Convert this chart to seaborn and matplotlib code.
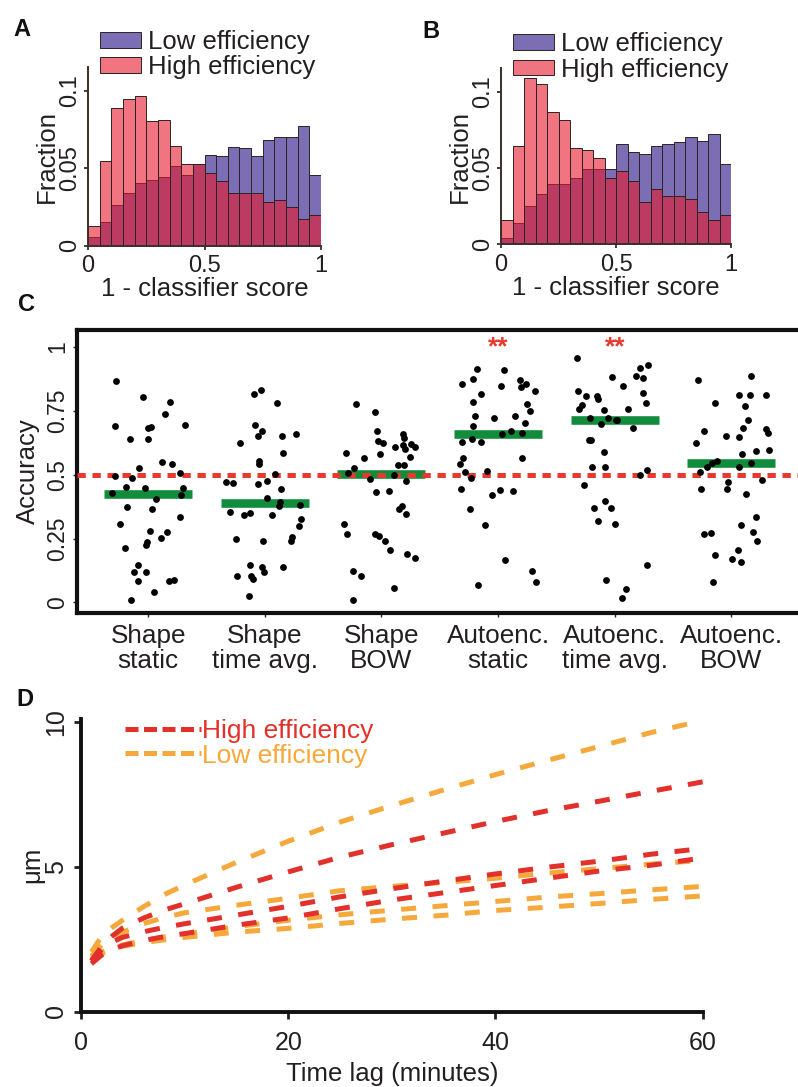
import numpy as np
import pandas as pd
import matplotlib
matplotlib.use("Agg")
import matplotlib.pyplot as plt
import seaborn as sns
from matplotlib.lines import Line2D

sns.set_style("ticks")
plt.rcParams['font.family'] = ['Liberation Sans', 'DejaVu Sans']
plt.rcParams['text.color'] = '#231f20'
plt.rcParams['axes.labelcolor'] = '#231f20'
plt.rcParams['xtick.color'] = '#231f20'
plt.rcParams['ytick.color'] = '#231f20'

# ---------------- data ----------------
bin_edges = [0.0, 0.05, 0.1, 0.15, 0.2, 0.25, 0.3, 0.35, 0.4, 0.45, 0.5,
             0.55, 0.6, 0.65, 0.7, 0.75, 0.8, 0.85, 0.9, 0.95, 1.0]
bin_centers = [0.025, 0.075, 0.125, 0.175, 0.225, 0.275, 0.325, 0.375, 0.425, 0.475,
               0.525, 0.575, 0.625, 0.675, 0.725, 0.775, 0.825, 0.875, 0.925, 0.975]

hist_a_low = [0.0058, 0.0154, 0.0261, 0.0342, 0.0404, 0.0423, 0.0444, 0.0513, 0.0457, 0.0530,
              0.0583, 0.0577, 0.0639, 0.0630, 0.0579, 0.0680, 0.0703, 0.0703, 0.0774, 0.0455]
hist_a_high = [0.0130, 0.0549, 0.0887, 0.0944, 0.0968, 0.0806, 0.0810, 0.0643, 0.0530, 0.0525,
               0.0472, 0.0415, 0.0338, 0.0338, 0.0338, 0.0282, 0.0297, 0.0248, 0.0173, 0.0199]
hist_b_low = [0.0041, 0.0141, 0.0253, 0.0329, 0.0396, 0.0396, 0.0435, 0.0491, 0.0491, 0.0496,
              0.0658, 0.0606, 0.0591, 0.0643, 0.0658, 0.0673, 0.0706, 0.0680, 0.0727, 0.0528]
hist_b_high = [0.0158, 0.0645, 0.1093, 0.1052, 0.0866, 0.0816, 0.0632, 0.0619, 0.0569, 0.0435,
               0.0480, 0.0416, 0.0275, 0.0366, 0.0320, 0.0318, 0.0297, 0.0210, 0.0162, 0.0195]

methods = ['Shape\nstatic', 'Shape\ntime avg.', 'Shape\nBOW',
           'Autoenc.\nstatic', 'Autoenc.\ntime avg.', 'Autoenc.\nBOW']
acc_shape_static = [0.868, 0.784, 0.802, 0.739, 0.694, 0.688, 0.681, 0.692, 0.640, 0.638,
                    0.551, 0.542, 0.526, 0.495, 0.487, 0.505, 0.453, 0.447, 0.422, 0.427,
                    0.405, 0.447, 0.375, 0.366, 0.334, 0.307, 0.280, 0.277, 0.254, 0.226,
                    0.214, 0.238, 0.148, 0.118, 0.085, 0.089, 0.085, 0.118, 0.040, 0.010]
acc_shape_time = [0.832, 0.817, 0.782, 0.694, 0.670, 0.651, 0.651, 0.660, 0.624, 0.583,
                  0.553, 0.543, 0.504, 0.477, 0.465, 0.471, 0.466, 0.445, 0.409, 0.393,
                  0.383, 0.377, 0.354, 0.351, 0.342, 0.341, 0.325, 0.301, 0.255, 0.239,
                  0.239, 0.250, 0.148, 0.139, 0.140, 0.121, 0.102, 0.093, 0.104, 0.025]
acc_shape_bow = [0.778, 0.744, 0.672, 0.660, 0.643, 0.624, 0.633, 0.615, 0.620, 0.608,
                 0.600, 0.607, 0.586, 0.569, 0.566, 0.580, 0.539, 0.538, 0.525, 0.499,
                 0.507, 0.484, 0.474, 0.432, 0.436, 0.367, 0.347, 0.376, 0.308, 0.267,
                 0.261, 0.267, 0.242, 0.207, 0.188, 0.173, 0.122, 0.104, 0.058, 0.010]
acc_auto_static = [0.912, 0.908, 0.873, 0.870, 0.856, 0.856, 0.846, 0.843, 0.826, 0.817,
                   0.784, 0.775, 0.749, 0.728, 0.722, 0.731, 0.703, 0.690, 0.671, 0.664,
                   0.658, 0.638, 0.628, 0.628, 0.565, 0.565, 0.542, 0.514, 0.509, 0.488,
                   0.445, 0.439, 0.435, 0.419, 0.366, 0.303, 0.165, 0.125, 0.079, 0.068]
acc_auto_time = [0.955, 0.917, 0.928, 0.883, 0.885, 0.877, 0.846, 0.819, 0.826, 0.808,
                 0.797, 0.808, 0.779, 0.758, 0.757, 0.772, 0.752, 0.723, 0.722, 0.714,
                 0.714, 0.697, 0.683, 0.636, 0.637, 0.587, 0.531, 0.531, 0.517, 0.500,
                 0.461, 0.396, 0.368, 0.368, 0.317, 0.306, 0.145, 0.087, 0.053, 0.016]
acc_auto_bow = [0.887, 0.869, 0.810, 0.813, 0.812, 0.780, 0.770, 0.714, 0.681, 0.669,
                0.664, 0.679, 0.653, 0.649, 0.624, 0.596, 0.593, 0.582, 0.546, 0.529,
                0.555, 0.547, 0.530, 0.509, 0.480, 0.470, 0.445, 0.444, 0.426, 0.333,
                0.304, 0.273, 0.277, 0.269, 0.242, 0.204, 0.186, 0.171, 0.160, 0.080]
chance_level = 0.5
significant = ['Autoenc.\nstatic', 'Autoenc.\ntime avg.']

t_lag = [1, 2, 3, 4, 6, 8, 10, 15, 20, 25, 30, 35, 40, 45, 50, 55, 60]
high_1 = [1.75, 2.25, 2.60, 2.88, 3.22, 3.50, 3.72, 4.29, 4.82, 5.33, 5.76, 6.16, 6.56, 6.93, 7.26, 7.60, 7.93]
high_2 = [1.75, 2.15, 2.40, 2.56, 2.75, 2.90, 3.03, 3.33, 3.63, 3.96, 4.24, 4.50, 4.75, 4.98, 5.19, 5.43, 5.63]
high_3 = [1.65, 1.95, 2.15, 2.27, 2.45, 2.58, 2.69, 2.98, 3.23, 3.55, 3.85, 4.10, 4.35, 4.60, 4.85, 5.05, 5.30]
low_1 = [2.05, 2.60, 2.90, 3.15, 3.61, 4.03, 4.37, 5.15, 5.88, 6.54, 7.11, 7.65, 8.18, 8.67, 9.15, 9.63, 10.05]
low_2 = [1.90, 2.30, 2.55, 2.73, 3.03, 3.24, 3.41, 3.67, 3.91, 4.17, 4.32, 4.46, 4.60, 4.78, 4.93, 5.09, 5.22]
low_3 = [1.85, 2.05, 2.20, 2.30, 2.45, 2.57, 2.67, 2.93, 3.15, 3.34, 3.50, 3.65, 3.80, 3.95, 4.07, 4.20, 4.32]
low_4 = [1.80, 2.00, 2.15, 2.25, 2.38, 2.47, 2.56, 2.74, 2.87, 3.04, 3.19, 3.32, 3.49, 3.60, 3.73, 3.87, 3.99]

# ---------------- style ----------------
purple = '#7b6eb4'
pink = '#e6192d'
hist_edge = '#2b2320'
green = '#118c3c'
red_dash = '#e8392f'
red_line = '#e2302a'
orange_line = '#f5a93c'
W, H = 798, 1087

fig = plt.figure(figsize=(W / 100, H / 100), dpi=100)


def fig_rect(x0, y0, x1, y1):
    return [x0 / W, 1 - y1 / H, (x1 - x0) / W, (y1 - y0) / H]


def hist_panel(rect, low, high):
    ax = fig.add_axes(rect)
    sns.histplot(x=bin_centers, weights=low, bins=bin_edges, color=purple, alpha=1,
                 edgecolor=hist_edge, linewidth=0.7, ax=ax, label='Low efficiency')
    sns.histplot(x=bin_centers, weights=high, bins=bin_edges, color=pink, alpha=0.6,
                 edgecolor=hist_edge, linewidth=0.7, ax=ax, label='High efficiency')
    ax.set_xlim(0, 1)
    ax.set_ylim(0, 0.1155)
    ax.set_xticks([0, 0.5, 1])
    ax.set_xticklabels(['0', '0.5', '1'])
    ax.set_yticks([0, 0.05, 0.1])
    ax.set_yticklabels(['0', '0.05', '0.1'], rotation=90, va='center')
    sns.despine(ax=ax)
    for s in ['left', 'bottom']:
        ax.spines[s].set_linewidth(1.4)
        ax.spines[s].set_color('#3a2e28')
    ax.tick_params(labelsize=17, length=3, width=1.2, pad=2)
    ax.tick_params(axis='x', pad=4)
    ax.set_xlabel('1 - classifier score', fontsize=18.5, labelpad=0)
    ax.set_ylabel('Fraction', fontsize=18.5, labelpad=0)
    ax.legend(loc='upper left', bbox_to_anchor=(0.05, 1.205), frameon=False,
              fontsize=18.5, handlelength=1.6, handleheight=0.55, handletextpad=0.3,
              labelspacing=0.05, borderpad=0, borderaxespad=0)
    return ax


axA = hist_panel(fig_rect(88, 66.7, 321, 245.7), hist_a_low, hist_a_high)
axB = hist_panel(fig_rect(501, 68.3, 731, 244.3), hist_b_low, hist_b_high)

# ---------------- panel C ----------------
acc_lists = [acc_shape_static, acc_shape_time, acc_shape_bow,
             acc_auto_static, acc_auto_time, acc_auto_bow]
df = pd.DataFrame({'method': np.repeat(methods, [len(a) for a in acc_lists]),
                   'acc': np.concatenate(acc_lists)})

axC = fig.add_axes(fig_rect(77.3, 330, 799, 612.7))
sns.boxplot(data=df, x='method', y='acc', order=methods, showbox=False, showcaps=False,
            showfliers=False, whis=0, width=0.755,
            medianprops=dict(color=green, linewidth=6.2, solid_capstyle='butt', zorder=2),
            whiskerprops=dict(linewidth=0), ax=axC)
axC.axhline(chance_level, color=red_dash, linewidth=3.6, linestyle=(0, (1.66, 1.34)), zorder=3)
np.random.seed(7)
sns.stripplot(data=df, x='method', y='acc', order=methods, color='black', size=4.9,
              jitter=0.33, linewidth=0, ax=axC, zorder=4)
for m in significant:
    axC.text(methods.index(m), 1.0, '**', ha='center', va='center', color=red_dash,
             fontsize=19, fontweight='bold')
axC.set_xlim(-0.608, 5.58)
axC.set_ylim(-0.04, 1.066)
axC.set_yticks([0, 0.25, 0.5, 0.75, 1])
axC.set_yticklabels(['0', '0.25', '0.5', '0.75', '1'], rotation=90, va='center')
axC.set_xlabel('')
axC.set_ylabel('Accuracy', fontsize=18.5, labelpad=4)
axC.tick_params(axis='y', labelsize=16.5, length=3, width=1, pad=3)
axC.tick_params(axis='x', labelsize=18.8, length=3, width=1, pad=5)
for lab in axC.get_xticklabels():
    lab.set_linespacing(1.05)
for s in axC.spines.values():
    s.set_linewidth(3.0)
    s.set_color('#111111')
axC.spines['right'].set_visible(False)

# ---------------- panel D ----------------
axD = fig.add_axes(fig_rect(81, 719, 702.7, 1011.5))
for vals in [low_1, low_2, low_3, low_4]:
    sns.lineplot(x=t_lag, y=vals, color=orange_line, linewidth=3.6, ax=axD)
    axD.lines[-1].set_linestyle((0, (3.0, 3.3)))
for vals in [high_1, high_2, high_3]:
    sns.lineplot(x=t_lag, y=vals, color=red_line, linewidth=3.6, ax=axD)
    axD.lines[-1].set_linestyle((0, (3.0, 3.3)))
axD.set_xlim(0, 60)
axD.set_ylim(0, 10.1)
axD.set_xticks([0, 20, 40, 60])
axD.set_yticks([0, 5, 10])
axD.set_yticklabels(['0', '5', '10'], rotation=90, va='center')
axD.set_xlabel('Time lag (minutes)', fontsize=18.5, labelpad=5)
axD.set_ylabel('μm', fontsize=18.5, labelpad=0)
axD.tick_params(labelsize=18, length=5, width=2, pad=4)
axD.tick_params(axis='x', pad=9)
sns.despine(ax=axD)
for s in ['left', 'bottom']:
    axD.spines[s].set_linewidth(2.8)
    axD.spines[s].set_color('#111111')
handles = [Line2D([], [], color=red_line, linewidth=3.6, linestyle=(0, (2.6, 1.1))),
           Line2D([], [], color=orange_line, linewidth=3.6, linestyle=(0, (2.6, 1.1)))]
axD.legend(handles, ['High efficiency', 'Low efficiency'], loc='upper left',
           bbox_to_anchor=(0.07, 1.0), frameon=False, fontsize=19,
           handlelength=2.9, handletextpad=0.05, labelspacing=0.02,
           labelcolor=[red_line, orange_line], borderpad=0, borderaxespad=0)

# ---------------- panel letters ----------------
for letter, x, y in [('A', 13, 18), ('B', 422, 20), ('C', 18, 293), ('D', 16, 688)]:
    fig.text(x / W, 1 - y / H, letter, fontsize=17, fontweight='bold', va='top', ha='left',
             color='#111111')

fig.savefig('out.png', dpi=100)
